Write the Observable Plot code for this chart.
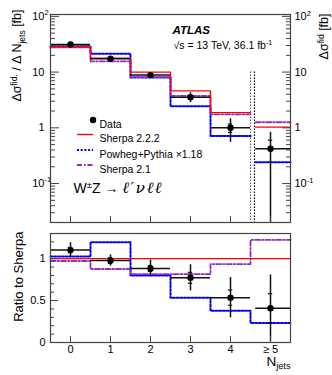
<!DOCTYPE html>
<html><head><meta charset="utf-8">
<script src="https://cdn.jsdelivr.net/npm/d3@7"></script>
<script src="https://cdn.jsdelivr.net/npm/@observablehq/plot@0.6"></script>
<style>
body{margin:0;background:#fff;}
#chart{position:relative;width:332px;height:375px;overflow:hidden;background:#fff;}
#chart svg{position:absolute;left:0;}
</style></head><body><div id="chart"></div>
<script>
// ---- data ----
const nJets = [0, 1, 2, 3, 4, 5];
const xTickLabels = ["0", "1", "2", "3", "4", "≥ 5"];
const dataXsec = [31.4, 17.4, 8.83, 3.55, 1.00, 0.42];
const dataTotErr = [2.5, 1.2, 1.0, 0.72, 0.45, 0.41];
const dataStatErr = [0.9, 0.6, 0.35, 0.3, 0.17, 0.18];
const sherpa222 = [28.5, 17.8, 10.0, 4.6, 1.87, 1.03];
const powhegPythia = [29.2, 21.3, 8.0, 2.45, 0.71, 0.24];
const sherpa21 = [27.7, 15.6, 8.15, 3.75, 1.75, 1.26];
const lastBinLow = 4.63;          // the >=5 bin is drawn after a small gap
const separators = [4.5, 4.6];
const yMajorTicks = [0.1, 1, 10, 100];
const yMajorLabels = ["10^{-1}", "1", "10", "10^{2}"];
const yMinorTicks = [0.02,0.03,0.04,0.05,0.06,0.07,0.08,0.09,0.2,0.3,0.4,0.5,0.6,0.7,0.8,0.9,2,3,4,5,6,7,8,9,20,30,40,50,60,70,80,90];
const rMajorTicks = [0, 0.5, 1];
const rMajorLabels = ["0", "0.5", "1"];
const rMinorTicks = [0.1,0.2,0.3,0.4,0.6,0.7,0.8,0.9,1.1,1.2];

const FONT = '"Liberation Sans", Arial, Helvetica, "DejaVu Sans", sans-serif';
const RED = "#ff0000", BLUE = "#0000ff", PURPLE = "#8e2cc4", FRAME = "#444";

function steps(vals, splitLast, lastLo) {
  const pts = [];
  vals.forEach((v, i) => {
    const seg = splitLast && i === 5 ? 1 : 0;
    const lo = i === 5 ? lastLo : nJets[i] - 0.5;
    pts.push({x: lo, y: v, seg}, {x: nJets[i] + 0.5, y: v, seg});
  });
  return pts;
}
const rows = nJets.map((n, i) => ({
  x: n, lo: i === 5 ? lastBinLow : n - 0.5, hi: n + 0.5,
  v: dataXsec[i], err: dataTotErr[i], stat: dataStatErr[i]
}));
const ratioRows = rows.map((d, i) => ({
  ...d, v: d.v / sherpa222[i], err: d.err / sherpa222[i], stat: d.stat / sherpa222[i]
}));

function dataMarks(rs, ymin) {
  return [
    Plot.ruleY(rs, {y: "v", x1: "lo", x2: "hi", stroke: "#111", strokeWidth: 1.5}),
    Plot.ruleX(rs, {x: "x", y1: d => Math.max(d.v - d.err, ymin), y2: d => d.v + d.err, stroke: "#111", strokeWidth: 1.5}),
    Plot.ruleY(rs, {y: d => d.v + d.stat, x1: d => d.x - 0.055, x2: d => d.x + 0.055, stroke: "#111", strokeWidth: 1.2}),
    Plot.ruleY(rs, {y: d => Math.max(d.v - d.stat, ymin), x1: d => d.x - 0.055, x2: d => d.x + 0.055, stroke: "#111", strokeWidth: 1.2}),
    Plot.dot(rs, {x: "x", y: "v", r: 3.2, fill: "#000", stroke: "none"})
  ];
}
function modelMarks(splitLast, lastLo, sh222, pw, sh21) {
  return [
    Plot.line(steps(pw, splitLast, lastLo), {x: "x", y: "y", z: "seg", stroke: BLUE, strokeWidth: 2, strokeDasharray: "2,1.7"}),
    Plot.line(steps(sh21, splitLast, lastLo), {x: "x", y: "y", z: "seg", stroke: PURPLE, strokeWidth: 1.8, strokeDasharray: "5,2,1.5,2"}),
    Plot.line(steps(sh222, splitLast, lastLo), {x: "x", y: "y", z: "seg", stroke: RED, strokeWidth: 1.4})
  ];
}
const txt = (s, o) => Plot.text([s], {text: d => d, fill: "#000", ...o});

// ---- top panel ----
const topPlot = Plot.plot({
  width: 332, height: 228,
  marginLeft: 50, marginRight: 42, marginTop: 14, marginBottom: 6,
  x: {domain: [-0.5, 5.5], axis: null},
  y: {type: "log", domain: [0.02, 108], axis: null},
  style: {fontFamily: FONT, fontSize: "11px", background: "transparent", overflow: "visible"},
  marks: [
    Plot.ruleX([separators[0]], {y1: 10, y2: 0.02, stroke: "#666", strokeWidth: 1.2, strokeDasharray: "1.5,1.5"}),
    Plot.ruleX([separators[1]], {y1: 10, y2: 0.02, stroke: "#000", strokeWidth: 1.2, strokeDasharray: "1.5,1.5"}),
    ...modelMarks(true, lastBinLow, sherpa222, powhegPythia, sherpa21),
    ...dataMarks(rows, 0.02),
    Plot.axisY(yMinorTicks, {anchor: "left", tickSize: 5, dx: 5, tickFormat: () => "", label: null, stroke: FRAME}),
    Plot.axisY(yMajorTicks, {anchor: "left", tickSize: 9, dx: 9, tickFormat: () => "", label: null, stroke: FRAME}),
    Plot.axisY(yMinorTicks, {anchor: "right", tickSize: 5, dx: -5, tickFormat: () => "", label: null, stroke: FRAME}),
    Plot.axisY(yMajorTicks, {anchor: "right", tickSize: 9, dx: -9, tickFormat: () => "", label: null, stroke: FRAME}),
    Plot.axisY(yMajorTicks, {anchor: "left", tickSize: 0, tickPadding: 6, tickFormat: d => yMajorLabels[yMajorTicks.indexOf(d)], label: null}),
    Plot.axisY(yMajorTicks, {anchor: "right", tickSize: 0, tickPadding: 4, tickFormat: d => yMajorLabels[yMajorTicks.indexOf(d)], label: null}),
    Plot.axisX(nJets, {anchor: "bottom", tickSize: 6, dy: -6, tickFormat: () => "", label: null, stroke: FRAME}),
    Plot.frame({stroke: FRAME, strokeWidth: 1.2}),
    txt("Δσ^{fid.} / Δ N_{jets} [fb]", {frameAnchor: "top-left", rotate: -90, textAnchor: "end", dx: -38, dy: -5, fontSize: 12.5}),
    txt("Δσ^{fid} [fb]", {frameAnchor: "top-right", rotate: -90, textAnchor: "end", dx: 29, dy: -1, fontSize: 12.5}),
    txt("ATLAS", {frameAnchor: "top-left", textAnchor: "start", lineAnchor: "top", dx: 122, dy: 11, fontSize: 11.5, fontWeight: "bold", fontStyle: "italic"}),
    txt("√s = 13 TeV, 36.1 fb^{-1}", {frameAnchor: "top-left", textAnchor: "start", lineAnchor: "top", dx: 123, dy: 27.5, fontSize: 10.5}),
    txt("Data", {frameAnchor: "top-left", textAnchor: "start", dx: 49, dy: 106, fontSize: 10.5}),
    txt("Sherpa 2.2.2", {frameAnchor: "top-left", textAnchor: "start", dx: 49, dy: 120.5, fontSize: 10.5}),
    txt("Powheg+Pythia ×1.18", {frameAnchor: "top-left", textAnchor: "start", dx: 49, dy: 136, fontSize: 10.5}),
    txt("Sherpa 2.1", {frameAnchor: "top-left", textAnchor: "start", dx: 49, dy: 151, fontSize: 10.5}),
    txt("W^{±}Z → ~{ℓ′νℓℓ}", {frameAnchor: "top-left", textAnchor: "start", dx: 23, dy: 169, fontSize: 14})
  ]
});

// ---- ratio panel ----
const botPlot = Plot.plot({
  width: 332, height: 147,
  marginLeft: 50, marginRight: 42, marginTop: 5, marginBottom: 33,
  x: {domain: [-0.5, 5.5], axis: null},
  y: {domain: [0, 1.3], axis: null},
  style: {fontFamily: FONT, fontSize: "11px", background: "transparent", overflow: "visible"},
  marks: [
    ...modelMarks(false, 4.5, sherpa222.map(() => 1), powhegPythia.map((v, i) => v / sherpa222[i]), sherpa21.map((v, i) => v / sherpa222[i])),
    ...dataMarks(ratioRows, 0),
    Plot.axisY(rMinorTicks, {anchor: "left", tickSize: 4, dx: 4, tickFormat: () => "", label: null, stroke: FRAME}),
    Plot.axisY(rMajorTicks, {anchor: "left", tickSize: 8, dx: 8, tickFormat: () => "", label: null, stroke: FRAME}),
    Plot.axisY(rMajorTicks, {anchor: "left", tickSize: 0, tickPadding: 5, tickFormat: d => rMajorLabels[rMajorTicks.indexOf(d)], label: null}),
    Plot.axisX(nJets, {anchor: "bottom", tickSize: 6, dy: -6, tickFormat: () => "", label: null, stroke: FRAME}),
    Plot.text(nJets, {x: d => d, frameAnchor: "bottom", lineAnchor: "top", dy: 3, text: d => xTickLabels[nJets.indexOf(d)], fill: "#000", fontSize: 11}),
    Plot.frame({stroke: FRAME, strokeWidth: 1.2}),
    txt("Ratio to Sherpa", {frameAnchor: "top-left", rotate: -90, textAnchor: "end", dx: -36.5, dy: -2, fontSize: 13}),
    txt("N_{jets}", {frameAnchor: "bottom-right", textAnchor: "end", dx: 0, dy: 23, fontSize: 13.5})
  ]
});

// ---- rich text (super/subscripts, ~{} = script-like italic) ----
const NS = "http://www.w3.org/2000/svg";
function richify(svg) {
  svg.querySelectorAll("text").forEach(t => {
    const s = t.textContent;
    if (!/[\^_~]\{/.test(s)) return;
    const anchorEl = t.closest("[text-anchor]");
    const anchor = t.getAttribute("text-anchor") || (anchorEl ? anchorEl.getAttribute("text-anchor") : "start");
    const isTick = !!t.closest('[aria-label="y-axis tick label"]');
    if (isTick && anchor === "end") {
      const m = s.match(/^(.*)\^\{(.*)\}$/);
      t.textContent = m[1];
      const c = t.cloneNode(false);
      c.textContent = m[2];
      c.setAttribute("text-anchor", "start");
      c.setAttribute("font-size", "7.5px");
      c.setAttribute("transform", (t.getAttribute("transform") || "") + " translate(0,-4)");
      t.parentNode.insertBefore(c, t.nextSibling);
      return;
    }
    while (t.firstChild) t.removeChild(t.firstChild);
    const re = /([\^_~])\{([^}]*)\}/g;
    let last = 0, m;
    const parts = [];
    while ((m = re.exec(s))) {
      if (m.index > last) parts.push({t: s.slice(last, m.index)});
      parts.push({t: m[2], k: m[1]});
      last = re.lastIndex;
    }
    if (last < s.length) parts.push({t: s.slice(last)});
    let shift = 0;
    parts.forEach(p => {
      const ts = document.createElementNS(NS, "tspan");
      ts.textContent = p.t;
      if (p.k === "~") {
        ts.setAttribute("font-family", '"DejaVu Serif", serif');
        ts.setAttribute("font-style", "italic");
        ts.setAttribute("font-size", "112%");
        ts.setAttribute("letter-spacing", "1.6");
        if (shift !== 0) { ts.setAttribute("dy", (-shift).toFixed(3) + "em"); shift = 0; }
      } else if (p.k) {
        const target = p.k === "^" ? -0.38 : 0.25;
        ts.setAttribute("font-size", "68%");
        ts.setAttribute("dy", ((target - shift) / 0.68).toFixed(3) + "em");
        shift = target;
      } else if (shift !== 0) {
        ts.setAttribute("dy", (-shift).toFixed(3) + "em");
        shift = 0;
      }
      t.appendChild(ts);
    });
  });
}
richify(topPlot);
richify(botPlot);

// ---- legend symbols (inside top panel) ----
const lg = d3.select(topPlot).append("g");
lg.append("circle").attr("cx", 93).attr("cy", 120).attr("r", 3.2).attr("fill", "#000");
const legendLines = [
  {y: 134.5, stroke: RED, w: 1.4, dash: null},
  {y: 150, stroke: BLUE, w: 2, dash: "2,1.7"},
  {y: 165, stroke: PURPLE, w: 1.8, dash: "5,2,1.5,2"}
];
legendLines.forEach(l => {
  const ln = lg.append("line").attr("x1", 77).attr("x2", 93).attr("y1", l.y).attr("y2", l.y)
    .attr("stroke", l.stroke).attr("stroke-width", l.w);
  if (l.dash) ln.attr("stroke-dasharray", l.dash);
});

topPlot.style.top = "0px";
botPlot.style.top = "228px";
const root = document.getElementById("chart");
root.appendChild(topPlot);
root.appendChild(botPlot);
</script>
</body></html>
